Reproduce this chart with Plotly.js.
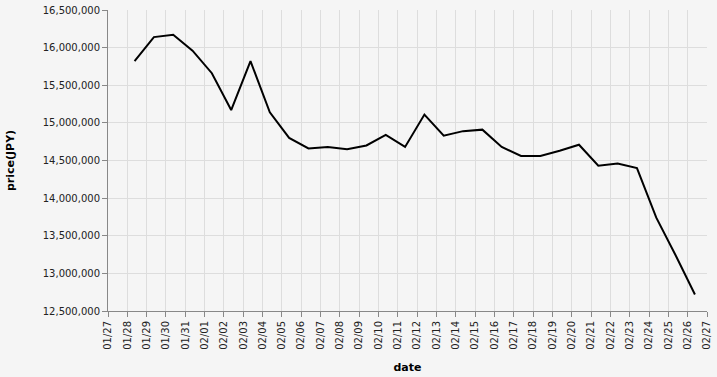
<!DOCTYPE html>
<html>
<head>
<meta charset="utf-8">
<script src="https://cdn.plot.ly/plotly-3.0.1.min.js"></script>
<style>html,body{margin:0;padding:0;background:#f5f5f5;}#chart{width:717px;height:377px;}</style>
</head>
<body>
<div id="chart"></div>
<script>
const dates = [
  "2025-01-28 09:00","2025-01-29 09:00","2025-01-30 09:00","2025-01-31 09:00",
  "2025-02-01 09:00","2025-02-02 09:00","2025-02-03 09:00","2025-02-04 09:00",
  "2025-02-05 09:00","2025-02-06 09:00","2025-02-07 09:00","2025-02-08 09:00",
  "2025-02-09 09:00","2025-02-10 09:00","2025-02-11 09:00","2025-02-12 09:00",
  "2025-02-13 09:00","2025-02-14 09:00","2025-02-15 09:00","2025-02-16 09:00",
  "2025-02-17 09:00","2025-02-18 09:00","2025-02-19 09:00","2025-02-20 09:00",
  "2025-02-21 09:00","2025-02-22 09:00","2025-02-23 09:00","2025-02-24 09:00",
  "2025-02-25 09:00","2025-02-26 09:00"
];
const prices = [
  15820000,16140000,16170000,15960000,
  15660000,15170000,15820000,15140000,
  14800000,14660000,14680000,14650000,
  14700000,14840000,14680000,15110000,
  14830000,14890000,14910000,14680000,
  14560000,14560000,14630000,14710000,
  14430000,14460000,14400000,13740000,
  13240000,12720000
];
const xRange = ["2025-01-27","2025-02-27"];
const yRange = [12500000,16500000];

const trace = {
  x: dates, y: prices, type: "scatter", mode: "lines",
  line: {color: "#000000", width: 2}, hoverinfo: "skip"
};
const font = {family: "DejaVu Sans, sans-serif", size: 10, color: "#222"};
const layout = {
  width: 717, height: 377,
  margin: {l: 108, r: 10, t: 10, b: 66},
  paper_bgcolor: "#f5f5f5", plot_bgcolor: "#f5f5f5",
  font: font,
  showlegend: false,
  xaxis: {
    type: "date", range: xRange, dtick: 86400000, tick0: "2025-01-27",
    tickformat: "%m/%d", tickangle: -90,
    showgrid: true, gridcolor: "#dddddd", gridwidth: 1,
    showline: true, linecolor: "#888888", linewidth: 1,
    ticks: "outside", ticklen: 5, tickcolor: "#888888",
    zeroline: false, tickfont: font,
    title: {text: "date", font: {family: "DejaVu Sans, sans-serif", size: 11, color: "#000", weight: "bold"}, standoff: 14}
  },
  yaxis: {
    range: yRange, dtick: 500000, tickformat: ",d",
    showgrid: true, gridcolor: "#dddddd", gridwidth: 1,
    showline: true, linecolor: "#888888", linewidth: 1,
    ticks: "outside", ticklen: 5, tickcolor: "#888888",
    zeroline: false, tickfont: font,
    title: {text: "price(JPY)", font: {family: "DejaVu Sans, sans-serif", size: 11, color: "#000", weight: "bold"}, standoff: 25}
  }
};
Plotly.newPlot("chart", [trace], layout, {displayModeBar: false, staticPlot: true});
</script>
</body>
</html>
